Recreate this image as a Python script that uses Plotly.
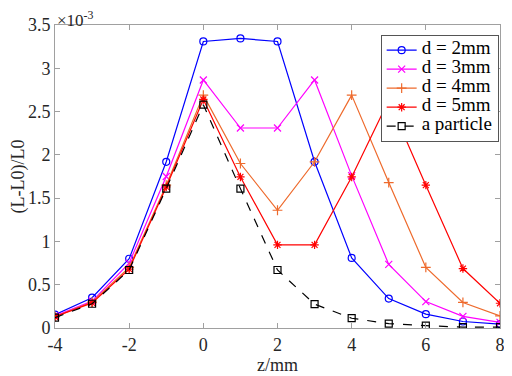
import plotly.graph_objects as go

z = [-4, -3, -2, -1, 0, 1, 2, 3, 4, 5, 6, 7, 8]
# (L-L0)/L0 values, in units of 1e-3
d2 = [0.155, 0.35, 0.80, 1.92, 3.31, 3.345, 3.31, 1.92, 0.81, 0.34, 0.16, 0.075, 0.045]
d3 = [0.14, 0.31, 0.75, 1.75, 2.865, 2.31, 2.31, 2.865, 1.76, 0.735, 0.305, 0.135, 0.065]
d4 = [0.13, 0.30, 0.70, 1.65, 2.69, 1.90, 1.36, 1.92, 2.69, 1.68, 0.70, 0.295, 0.14]
d5 = [0.13, 0.29, 0.68, 1.63, 2.64, 1.745, 0.96, 0.96, 1.745, 2.63, 1.65, 0.687, 0.286]
particle = [0.12, 0.28, 0.67, 1.61, 2.58, 1.61, 0.67, 0.275, 0.113, 0.05, 0.027, 0.01, 0.01]

names = ["d = 2mm", "d = 3mm", "d = 4mm", "d = 5mm", "a particle"]
series = [d2, d3, d4, d5, particle]
colors = ["#0000FF", "#FF00FF", "#EE6A2C", "#FF0000", "#000000"]
symbols = ["circle-open", "x-thin-open", "cross-thin-open", "asterisk-open", "square-open"]
dashes = ["solid", "solid", "solid", "solid", "dash"]

FF = "Liberation Serif, Times New Roman, serif"

fig = go.Figure()
for n, s, c, sym, dsh in zip(names, series, colors, symbols, dashes):
    fig.add_trace(go.Scatter(
        x=z, y=s, mode="lines+markers",
        name='<span style="font-size:19px">' + n + '</span>',
        line=dict(color=c, width=1.2, dash=dsh),
        marker=dict(symbol=sym, size=7, color=c, line=dict(color=c, width=1.2)),
    ))

# the page body has an 8px default margin, so the figure is 504x368 and starts at (8, 8)
fig.update_layout(
    width=504, height=368,
    margin=dict(l=40, r=7, t=14, b=45),
    paper_bgcolor="white", plot_bgcolor="white",
    font=dict(family=FF, size=17, color="#262626"),
    showlegend=True,
    legend=dict(
        x=0.997, xanchor="right", y=0.968, yanchor="top",
        bgcolor="white", bordercolor="#555555", borderwidth=1,
        font=dict(family=FF, size=10, color="#000000"),
    ),
    xaxis=dict(
        range=[-4, 8], tickvals=[-4, -2, 0, 2, 4, 6, 8],
        ticktext=["-4", "-2", "0", "2", "4", "6", "8"],
        tickfont=dict(family=FF, size=18, color="#262626"),
        showgrid=False, zeroline=False, showline=True, linecolor="#a0a0a0",
        mirror="ticks", ticks="inside", ticklen=5, tickcolor="#a0a0a0",
        title=dict(text="z/mm", standoff=2, font=dict(family=FF, size=18)),
    ),
    yaxis=dict(
        range=[0, 3.5], tickvals=[0, 0.5, 1, 1.5, 2, 2.5, 3, 3.5],
        ticktext=["0", "0.5", "1", "1.5", "2", "2.5", "3", "3.5"],
        tickfont=dict(family=FF, size=18, color="#262626"),
        showgrid=False, zeroline=False, showline=True, linecolor="#a0a0a0",
        mirror="ticks", ticks="inside", ticklen=5, tickcolor="#a0a0a0",
        title=dict(text="(L-L0)/L0", standoff=0, font=dict(family=FF, size=18)),
    ),
    annotations=[dict(
        x=0, y=1, xref="paper", yref="paper", xanchor="left", yanchor="bottom",
        text="×10<sup>-3</sup>", showarrow=False, xshift=0, yshift=-7,
        font=dict(family=FF, size=17, color="#262626"),
    )],
)

fig.write_html("out.html")
